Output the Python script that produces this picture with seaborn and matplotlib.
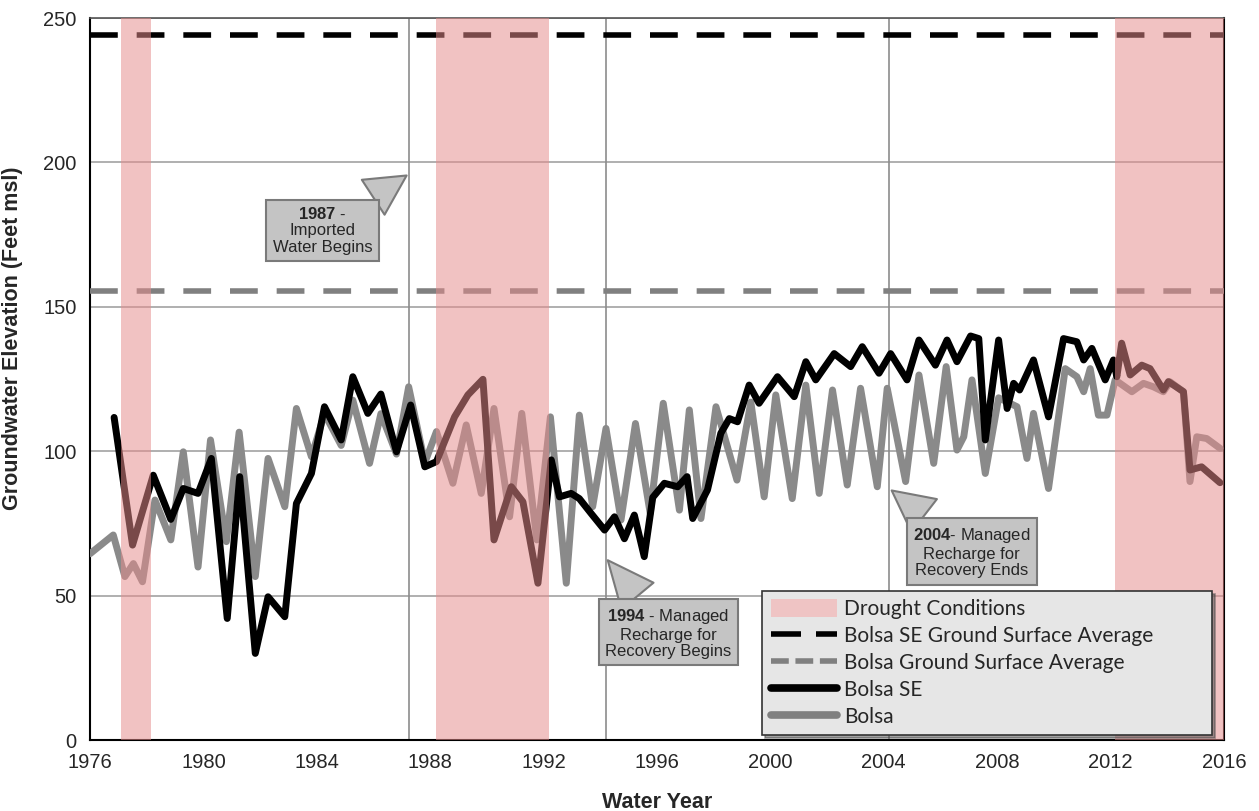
import matplotlib
matplotlib.use("Agg")
import matplotlib.pyplot as plt
from matplotlib.patches import Patch
from matplotlib.lines import Line2D
import seaborn as sns
import pandas as pd

# Bolsa SE well (black)
bolsa_se_year = [1976.85, 1977.50, 1978.23, 1978.85, 1979.29, 1979.81, 1980.28, 1980.84, 1981.28, 1981.83,
                 1982.28, 1982.87, 1983.28, 1983.81, 1984.27, 1984.86, 1985.27, 1985.80, 1986.26, 1986.81,
                 1987.31, 1987.81, 1988.22, 1988.86, 1989.33, 1989.86, 1990.25, 1990.86, 1991.27, 1991.80,
                 1992.27, 1992.56, 1992.97, 1993.26, 1993.68, 1994.15, 1994.50, 1994.85, 1995.20, 1995.55,
                 1995.85, 1996.26, 1996.73, 1997.06, 1997.26, 1997.78, 1998.25, 1998.55, 1998.84, 1999.25,
                 1999.60, 2000.25, 2000.84, 2001.25, 2001.60, 2002.25, 2002.83, 2003.24, 2003.83, 2004.24,
                 2004.82, 2005.24, 2005.82, 2006.23, 2006.58, 2007.06, 2007.35, 2007.58, 2008.05, 2008.35,
                 2008.58, 2008.79, 2009.28, 2009.81, 2010.34, 2010.81, 2011.05, 2011.34, 2011.81, 2012.10,
                 2012.22, 2012.39, 2012.69, 2013.10, 2013.39, 2013.86, 2014.04, 2014.57, 2014.80, 2015.21,
                 2015.86]
bolsa_se_elev = [111.7, 67.5, 91.7, 76.4, 87.1, 85.4, 97.5, 42.1, 91.2, 30.0,
                 49.6, 42.7, 81.9, 92.3, 115.4, 103.9, 125.8, 113.1, 119.8, 99.8,
                 116.0, 94.6, 96.4, 111.9, 119.5, 124.9, 69.3, 87.7, 82.5, 54.3,
                 97.0, 84.2, 85.4, 83.6, 78.4, 72.7, 77.3, 69.7, 77.9, 63.5,
                 84.0, 88.9, 87.7, 91.2, 76.7, 86.6, 106.2, 111.3, 110.2, 122.9,
                 116.6, 125.8, 118.9, 131.0, 124.7, 133.8, 129.3, 136.2, 127.0, 133.8,
                 124.7, 138.5, 129.8, 138.5, 131.0, 139.9, 139.0, 103.9, 138.5, 114.8,
                 123.5, 121.2, 131.6, 111.9, 139.0, 137.9, 131.6, 135.6, 124.7, 131.6,
                 125.8, 137.4, 126.4, 129.8, 128.6, 121.2, 124.1, 120.6, 93.5, 94.6,
                 89.1]

# Bolsa well (gray)
bolsa_year = [1976.00, 1976.82, 1977.23, 1977.53, 1977.85, 1978.29, 1978.85, 1979.29, 1979.81, 1980.25,
              1980.81, 1981.26, 1981.83, 1982.28, 1982.87, 1983.28, 1983.81, 1984.27, 1984.86, 1985.27,
              1985.86, 1986.26, 1986.81, 1987.24, 1987.81, 1988.22, 1988.80, 1989.27, 1989.80, 1990.25,
              1990.80, 1991.23, 1991.76, 1992.24, 1992.80, 1993.26, 1993.73, 1994.20, 1994.73, 1995.24,
              1995.76, 1996.22, 1996.79, 1997.14, 1997.55, 1998.08, 1998.82, 1999.31, 1999.78, 2000.19,
              2000.77, 2001.25, 2001.72, 2002.19, 2002.71, 2003.18, 2003.77, 2004.12, 2004.77, 2005.24,
              2005.76, 2006.20, 2006.58, 2006.82, 2007.11, 2007.58, 2008.05, 2008.70, 2009.05, 2009.28,
              2009.81, 2010.40, 2010.81, 2011.05, 2011.28, 2011.57, 2011.87, 2012.16, 2012.75, 2013.16,
              2013.51, 2013.86, 2014.10, 2014.57, 2014.80, 2015.04, 2015.39, 2015.86]
bolsa_elev = [64.5, 71.0, 56.6, 61.1, 54.8, 83.1, 69.3, 99.8, 59.9, 103.9,
              68.7, 106.6, 56.6, 97.5, 80.8, 114.8, 98.1, 113.0, 102.0, 117.7,
              95.8, 113.0, 99.0, 122.3, 96.0, 106.8, 88.9, 109.1, 85.4, 114.8,
              77.3, 113.1, 69.3, 111.9, 54.3, 112.5, 80.8, 107.9, 76.2, 109.6,
              78.5, 116.6, 79.6, 114.3, 76.7, 115.4, 90.0, 117.0, 84.2, 119.5,
              83.6, 122.9, 85.4, 121.2, 88.3, 121.8, 87.7, 121.8, 89.5, 126.4,
              95.8, 129.3, 100.4, 105.0, 124.7, 92.3, 118.5, 115.4, 97.5, 113.1,
              87.1, 128.6, 125.8, 120.6, 128.6, 112.5, 112.5, 124.7, 120.6, 123.5,
              122.3, 120.6, 124.0, 120.6, 89.5, 105.0, 104.4, 101.0]

# ground surface averages
bolsa_se_surface = 244
bolsa_surface = 155.5

drought_periods = [(1977.1, 1978.15), (1988.2, 1992.2), (2012.15, 2016.0)]
event_years = [1987.25, 1994.2, 2004.2]

# (text, pointer tip x, tip y, box centre x, box centre y)
callouts = [
    ("$\\bf{1987}$ -\nImported\nWater Begins", 1987.25, 196, 1984.2, 176.5),
    ("$\\bf{1994}$ - Managed\nRecharge for\nRecovery Begins", 1994.2, 63, 1996.4, 37),
    ("$\\bf{2004}$- Managed\nRecharge for\nRecovery Ends", 2004.2, 87, 2007.1, 65),
]

se_df = pd.DataFrame({"year": bolsa_se_year, "elev": bolsa_se_elev})
bolsa_df = pd.DataFrame({"year": bolsa_year, "elev": bolsa_elev})

sns.set_style("white")
plt.rcParams["font.family"] = ["Liberation Sans", "DejaVu Sans"]
plt.rcParams["mathtext.fontset"] = "custom"
plt.rcParams["mathtext.bf"] = "Liberation Sans:bold"
plt.rcParams["mathtext.rm"] = "Liberation Sans"

fig = plt.figure(figsize=(12.59, 8.11), dpi=100)
ax = fig.add_axes([0.0715, 0.0875, 0.9007, 0.8903])

drought_color = "#E68C8C"
gray = "#8a8a8a"

for yr in event_years:
    ax.axvline(yr, color="#8c8c8c", lw=1.2, zorder=1)

ax.axhline(bolsa_se_surface, color="black", lw=4, dashes=(5, 3.4), zorder=3)
ax.axhline(bolsa_surface, color="#808080", lw=4, dashes=(5, 3.4), zorder=3)

sns.lineplot(data=bolsa_df, x="year", y="elev", color=gray, lw=5,
             sort=False, estimator=None, ax=ax, zorder=3)
sns.lineplot(data=se_df, x="year", y="elev", color="black", lw=5,
             sort=False, estimator=None, ax=ax, zorder=4)

for start, end in drought_periods:
    ax.axvspan(start, end, color=drought_color, alpha=0.53, lw=0, zorder=5)

for text, tx, ty, bx, by in callouts:
    ax.annotate(text, xy=(tx, ty), xytext=(bx, by), ha="center", va="center",
                fontsize=12, linespacing=1.12, zorder=6,
                bbox=dict(boxstyle="square,pad=0.38", fc="#c4c4c4", ec="#7a7a7a", lw=1.5),
                arrowprops=dict(arrowstyle="wedge,tail_width=2.5,shrink_factor=0.5",
                                fc="#c4c4c4", ec="#7a7a7a", lw=1.5))

ax.set_xlim(1976, 2016)
ax.set_ylim(0, 250)
ax.set_xticks(range(1976, 2017, 4))
ax.set_yticks(range(0, 251, 50))
ax.yaxis.grid(True, color="#9a9a9a", lw=1.1)
ax.set_axisbelow(True)
ax.tick_params(axis="both", direction="out", length=6, width=1.2, labelsize=14.5, color="black")
ax.set_xlabel("Water Year", fontsize=15.5, fontweight="bold", labelpad=14)
ax.set_ylabel("Groundwater Elevation (Feet msl)", fontsize=15.5, fontweight="bold")
ax.yaxis.set_label_coords(-0.059, 0.557)
for side in ["left", "bottom", "right"]:
    ax.spines[side].set_color("black")
    ax.spines[side].set_linewidth(1.5)
ax.spines["top"].set_color("#555555")
ax.spines["top"].set_linewidth(1.2)

handles = [
    Patch(facecolor="#EFC4C4", edgecolor="none"),
    Line2D([], [], color="black", lw=4, dashes=(5.4, 2.7)),
    Line2D([], [], color="#808080", lw=4, dashes=(3.2, 1.2)),
    Line2D([], [], color="black", lw=5.5),
    Line2D([], [], color="#808080", lw=5.5),
]
labels = ["Drought Conditions", "Bolsa SE Ground Surface Average",
          "Bolsa Ground Surface Average", "Bolsa SE", "Bolsa"]
leg = ax.legend(handles, labels, loc="lower left", mode="expand",
                bbox_to_anchor=(0.593, 0.007, 0.3965, 0.19),
                borderaxespad=0, frameon=True, fancybox=False, shadow=True,
                prop={"family": "Lato", "size": 15}, handlelength=3.2,
                handleheight=0.9, handletextpad=0.3, labelspacing=0.33, borderpad=0.4)
leg.get_frame().set_facecolor("#e6e6e6")
leg.get_frame().set_edgecolor("#333333")
leg.get_frame().set_linewidth(1.2)
leg.get_frame().set_alpha(1)
leg.set_zorder(10)

plt.savefig("out.png", dpi=100)
